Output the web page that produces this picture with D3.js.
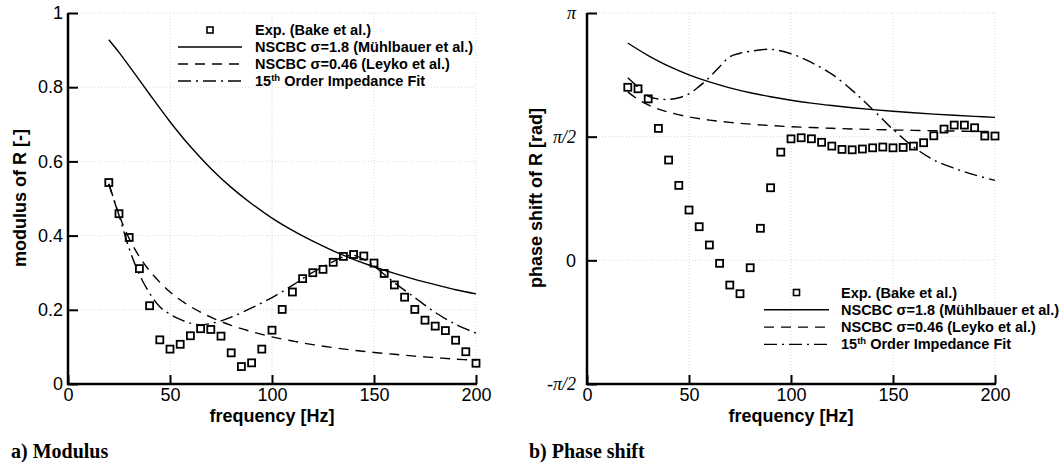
<!DOCTYPE html>
<html>
<head>
<meta charset="utf-8">
<script src="https://cdn.jsdelivr.net/npm/d3@7"></script>
<style>
  html, body { margin: 0; padding: 0; background: #fff; }
  svg { display: block; }
  text { font-family: "Liberation Sans", Arial, Helvetica, sans-serif; }
</style>
</head>
<body>
<svg id="chart" width="1061" height="467"></svg>
<script>
// ---------- DATA ----------
const expFreq = [20,25,30,35,40,45,50,55,60,65,70,75,80,85,90,95,100,105,110,115,120,125,130,135,140,145,150,155,160,165,170,175,180,185,190,195,200];
const expModulus = [0.543,0.459,0.395,0.311,0.211,0.119,0.094,0.107,0.130,0.149,0.147,0.129,0.084,0.047,0.057,0.094,0.145,0.201,0.248,0.284,0.300,0.309,0.328,0.344,0.349,0.345,0.326,0.298,0.267,0.234,0.201,0.172,0.156,0.144,0.118,0.087,0.056];
const expPhase = [2.198,2.179,2.051,1.676,1.274,0.952,0.639,0.427,0.195,-0.038,-0.314,-0.424,-0.094,0.407,0.922,1.374,1.543,1.557,1.544,1.499,1.451,1.409,1.404,1.414,1.429,1.439,1.429,1.434,1.451,1.494,1.582,1.667,1.718,1.718,1.684,1.579,1.579];

const modelFreq = [20,25,30,35,40,50,60,70,80,90,100,110,120,130,140,150,160,170,180,190,200];
const nscbc18Modulus = [0.928,0.894,0.857,0.819,0.781,0.707,0.640,0.581,0.530,0.486,0.447,0.414,0.385,0.359,0.336,0.316,0.298,0.282,0.268,0.254,0.243];
const nscbc046Modulus = [0.539,0.456,0.392,0.343,0.305,0.248,0.209,0.180,0.158,0.141,0.127,0.116,0.106,0.098,0.091,0.085,0.080,0.075,0.071,0.067,0.064];
const nscbc18Phase = [2.761,2.678,2.601,2.531,2.467,2.356,2.266,2.191,2.129,2.078,2.034,1.997,1.966,1.938,1.914,1.893,1.874,1.857,1.842,1.828,1.816];
const nscbc046Phase = [2.140,2.044,1.974,1.921,1.881,1.821,1.781,1.752,1.730,1.712,1.698,1.687,1.677,1.669,1.662,1.656,1.651,1.646,1.642,1.638,1.635];

const fitFreq = [20,25,30,35,40,45,50,55,60,65,70,75,80,90,100,110,120,130,135,140,145,150,160,170,180,190,200];
const fitModulus = [0.540,0.455,0.365,0.295,0.245,0.208,0.188,0.174,0.164,0.159,0.163,0.170,0.180,0.205,0.233,0.266,0.301,0.330,0.343,0.347,0.336,0.318,0.273,0.233,0.193,0.161,0.137];
const fitPhase = [2.318,2.200,2.086,2.050,2.045,2.065,2.115,2.210,2.324,2.460,2.586,2.630,2.655,2.680,2.624,2.513,2.365,2.159,2.040,1.917,1.790,1.663,1.442,1.275,1.169,1.085,1.015];

const xTicks = [0,50,100,150,200];
const modTicks = [0,0.2,0.4,0.6,0.8,1];
const modTickLabels = ["0","0.2","0.4","0.6","0.8","1"];
const phaseTicks = [-Math.PI/2, 0, Math.PI/2, Math.PI];
const phaseTickLabels = ["-\u03C0/2","0","\u03C0/2","\u03C0"];

const legendLabels = ["Exp. (Bake et al.)", "NSCBC \u03C3=1.8 (M\u00FChlbauer et al.)", "NSCBC \u03C3=0.46 (Leyko et al.)", "15th Order Impedance Fit"];

// ---------- DRAW ----------
const svg = d3.select("#chart");
const DASH = "10,7";
const DASHDOT = "13,5,2,5";

function panel(o) {
  const g = svg.append("g");
  const x = d3.scaleLinear().domain([0,200]).range(o.xRange);
  const y = d3.scaleLinear().domain(o.yDomain).range([384, 13]);

  // faint dotted grid
  const grid = g.append("g").attr("stroke", "#d8d8d8").attr("stroke-width", 1).attr("stroke-dasharray", "1,2");
  xTicks.filter(t => t > 0).forEach(t => grid.append("line").attr("x1", x(t)).attr("x2", x(t)).attr("y1", y.range()[1]).attr("y2", y.range()[0]));
  o.yTicks.slice(1).forEach(t => grid.append("line").attr("x1", o.xRange[0]).attr("x2", o.xRange[1]).attr("y1", y(t)).attr("y2", y(t)));

  // axes
  const xAxis = d3.axisBottom(x).tickValues(xTicks).tickSizeInner(-9).tickSizeOuter(0).tickPadding(4);
  const gx = g.append("g").attr("transform", `translate(0,384)`).call(xAxis);
  const yAxis = d3.axisLeft(y).tickValues(o.yTicks).tickFormat((d,i) => o.yLabels[i]).tickSizeInner(-10).tickSizeOuter(0).tickPadding(o.yPad);
  const gy = g.append("g").attr("transform", `translate(${o.xRange[0]},0)`).call(yAxis);
  [gx, gy].forEach(a => {
    a.select(".domain").attr("stroke", "#000").attr("stroke-width", 2.5);
    a.selectAll(".tick line").attr("stroke", "#000").attr("stroke-width", 2);
    a.selectAll(".tick text").attr("fill", "#000").style("font-size", "18px").style("font-family", "'Liberation Sans', Arial, sans-serif");
  });
  gx.select(".domain").attr("d", `M${o.xRange[0]-1},0H${o.xRange[1]+1}`);
  gy.select(".domain").attr("d", `M0,13V385`);
  if (o.serifY) {
    gy.selectAll(".tick text").filter((d,i) => o.yLabels[i] !== "0")
      .style("font-family", "'Liberation Serif', 'Times New Roman', serif").style("font-style", "italic");
  }

  // curves
  const line = (fx, fy) => d3.line().x((d,i) => x(fx[i])).y(d => y(d)).curve(d3.curveCatmullRom.alpha(0.5));
  const draw = (fx, fy, dash) => g.append("path").datum(fy)
    .attr("d", line(fx, fy)).attr("fill", "none").attr("stroke", "#000").attr("stroke-width", 1.4)
    .attr("stroke-dasharray", dash);
  draw(modelFreq, o.solid, null);
  draw(modelFreq, o.dashed, DASH);
  draw(fitFreq, o.fit, DASHDOT);

  // experimental squares
  g.append("g").selectAll("rect").data(o.exp).join("rect")
    .attr("x", (d,i) => x(expFreq[i]) - 3.5).attr("y", d => y(d) - 3.5)
    .attr("width", 7).attr("height", 7)
    .attr("fill", "none").attr("stroke", "#000").attr("stroke-width", 1.8);

  // axis titles
  g.append("text").attr("x", (o.xRange[0]+o.xRange[1])/2).attr("y", 422)
    .attr("text-anchor", "middle").style("font-weight", "bold").style("font-size", "18px")
    .text("frequency [Hz]");
  g.append("text").attr("transform", `translate(${o.yTitleX},198) rotate(-90)`)
    .attr("text-anchor", "middle").style("font-weight", "bold").style("font-size", "18px")
    .text(o.yTitle);

  // caption
  g.append("text").attr("x", o.capX).attr("y", 458)
    .style("font-family", "'Liberation Serif', 'Times New Roman', serif")
    .style("font-weight", "bold").style("font-size", "20px").text(o.caption);

  // legend
  const lg = g.append("g");
  const rows = o.legend;
  legendLabels.forEach((lab, i) => {
    const cy = rows.y0 + i * rows.dy;
    if (i === 0) {
      lg.append("rect").attr("x", (rows.l0+rows.l1)/2 - 3).attr("y", cy - 3).attr("width", 6).attr("height", 6)
        .attr("fill", "none").attr("stroke", "#000").attr("stroke-width", 1.6);
    } else {
      lg.append("line").attr("x1", rows.l0).attr("x2", rows.l1).attr("y1", cy).attr("y2", cy)
        .attr("stroke", "#000").attr("stroke-width", 1.4)
        .attr("stroke-dasharray", i === 1 ? null : (i === 2 ? DASH : DASHDOT));
    }
    const t = lg.append("text").attr("x", rows.tx).attr("y", cy + 5)
      .style("font-weight", "bold").style("font-size", "14.5px");
    if (i === 3) {
      t.append("tspan").text("15");
      t.append("tspan").attr("dy", -5).style("font-size", "9.5px").text("th");
      t.append("tspan").attr("dy", 5).text(" Order Impedance Fit");
    } else {
      t.text(lab);
    }
  });
}

panel({
  xRange: [68, 476], yDomain: [0, 1], yTicks: modTicks, yLabels: modTickLabels, yPad: 5,
  solid: nscbc18Modulus, dashed: nscbc046Modulus, fit: fitModulus, exp: expModulus,
  yTitle: "modulus of R [-]", yTitleX: 26, caption: "a) Modulus", capX: 11,
  legend: { y0: 30, dy: 17, l0: 178, l1: 242, tx: 255 }
});
panel({
  xRange: [587, 995], yDomain: [-Math.PI/2, Math.PI], yTicks: phaseTicks, yLabels: phaseTickLabels, yPad: 11, serifY: true,
  solid: nscbc18Phase, dashed: nscbc046Phase, fit: fitPhase, exp: expPhase,
  yTitle: "phase shift of R [rad]", yTitleX: 542, caption: "b) Phase shift", capX: 529,
  legend: { y0: 292.5, dy: 17.3, l0: 764, l1: 829, tx: 841 }
});
</script>
</body>
</html>
